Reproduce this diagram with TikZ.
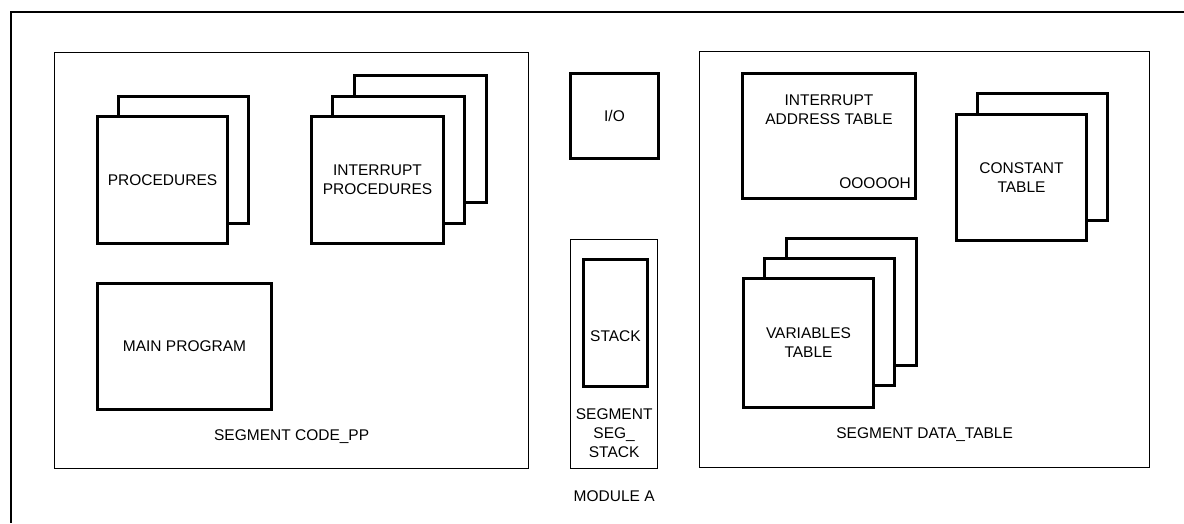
\documentclass[tikz,border=0pt]{standalone}
\usepackage{fontspec}
\setmainfont{Liberation Sans}
\usetikzlibrary{positioning}

\begin{document}
\begin{tikzpicture}[
  x=1pt, y=-1pt,
  font=\fontsize{15.5}{19}\selectfont,
  frame/.style={draw, line width=1.3pt, anchor=north west, inner sep=0pt},
  sheet/.style={draw, line width=3pt, fill=white, anchor=north west, inner sep=0pt, align=center, minimum width=130pt, minimum height=127pt},
  seglabel/.style={align=center, inner sep=0pt}
]
  \useasboundingbox (0,0) rectangle (1184,523);
  % module frame, open at right and bottom
  \coordinate (modtr) at (1184,12);
  \coordinate (modtl) at (11,12);
  \coordinate (modbl) at (11,523);
  \draw[line width=1.3pt] (modtr) -- (modtl) -- (modbl);

  % code segment
  \node[frame, minimum width=474pt, minimum height=416pt] (code) at (54,52) {};
  \node[seglabel] (codelbl) at ([yshift=33pt]code.south) {SEGMENT CODE\_PP};
  \node[sheet] (procback) at (117,95) {};
  \node[sheet] (proc) at (96,115) {PROCEDURES};
  \node[sheet, minimum width=132pt] (intrback) at (353,74) {};
  \node[sheet, minimum width=132pt] (intrmid) at (331,95) {};
  \node[sheet, minimum width=132pt] (intr) at (310,115) {INTERRUPT\\PROCEDURES};
  \node[sheet, minimum width=174pt, minimum height=126pt] (main) at (96,282) {MAIN PROGRAM};

  % middle column
  \node[sheet, minimum width=88pt, minimum height=85pt] (io) at (569,72) {I/O};
  \node[frame, minimum width=87pt, minimum height=229pt] (segstack) at (570,239) {};
  \node[sheet, minimum width=64pt, minimum height=127pt] (stack) at (582,258) {};
  \node (stacktxt) at ([yshift=-13pt]stack.center) {STACK};
  \node[seglabel] (segstacklbl) at ([yshift=36pt]segstack.south) {SEGMENT\\SEG\_\\STACK};
  \node (modlbl) at ([yshift=-27pt]segstack.south) {MODULE A};

  % data segment
  \node[frame, minimum width=450pt, minimum height=416pt] (data) at (699,51) {};
  \node[seglabel] (datalbl) at ([yshift=34pt]data.south) {SEGMENT DATA\_TABLE};
  \node[sheet, minimum width=173pt, minimum height=125pt] (iat) at (741,72) {};
  \node[seglabel] (iattxt) at ([yshift=-38pt]iat.north) {INTERRUPT\\ADDRESS TABLE};
  \node[anchor=east, inner sep=0pt] (iataddr) at ([xshift=-6pt,yshift=17pt]iat.south east) {OOOOOH};
  \node[sheet] (constback) at (976,92) {};
  \node[sheet, minimum height=126pt] (const) at (955,113) {CONSTANT\\TABLE};
  \node[sheet] (varback) at (785,237) {};
  \node[sheet] (varmid) at (763,257) {};
  \node[sheet, minimum height=129pt] (var) at (742,277) {VARIABLES\\TABLE};
\end{tikzpicture}
\end{document}
